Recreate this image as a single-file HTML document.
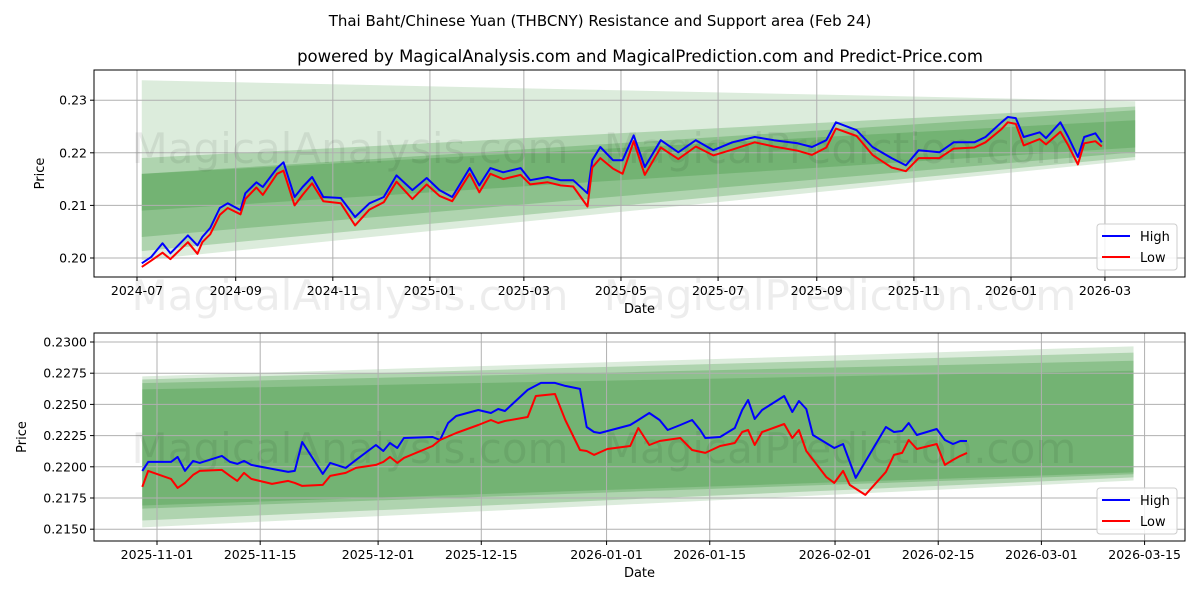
<!DOCTYPE html>
<html><head><meta charset="utf-8"><style>
html,body{margin:0;padding:0;background:#fff;}
svg text{font-family:"DejaVu Sans","Liberation Sans",sans-serif;}
</style></head><body>
<svg id="svg" width="1200" height="600" xmlns="http://www.w3.org/2000/svg">
<rect width="1200" height="600" fill="#fff"/>
<text x="600" y="26" text-anchor="middle" font-size="15" fill="#000">Thai Baht/Chinese Yuan (THBCNY) Resistance and Support area (Feb 24)</text>
<text x="640" y="62" text-anchor="middle" font-size="16.5" fill="#000">powered by MagicalAnalysis.com and MagicalPrediction.com and Predict-Price.com</text>
<g id="top"></g>
<g id="bot"></g>
</svg>
<script>
// ---- top chart data (days since 2024-07-01) ----
const topDays=[3,9,16,21,32,38,41,46,52,57,65,68,75,79,88,92,99,104,110,117,128,137,146,155,163,173,182,190,198,209,215,222,230,241,247,258,266,274,283,286,291,299,305,312,319,329,340,351,362,374,388,400,415,424,433,439,452,462,474,483,491,504,513,526,533,543,547,552,557,567,571,580,585,591,595,602,606];
const topHigh=[0.1990,0.2002,0.2028,0.2009,0.2043,0.2024,0.2040,0.2057,0.2095,0.2104,0.2091,0.2123,0.2144,0.2135,0.2171,0.2182,0.2116,0.2135,0.2154,0.2116,0.2114,0.2078,0.2104,0.2116,0.2157,0.2129,0.2152,0.2129,0.2116,0.2171,0.2138,0.2171,0.2163,0.2171,0.2148,0.2154,0.2148,0.2148,0.2123,0.2186,0.2211,0.2186,0.2186,0.2233,0.2173,0.2224,0.2201,0.2224,0.2205,0.2220,0.2230,0.2224,0.2218,0.2211,0.2224,0.2258,0.2243,0.2211,0.2190,0.2176,0.2205,0.2201,0.2220,0.2220,0.2230,0.2258,0.2268,0.2266,0.2230,0.2239,0.2228,0.2258,0.2230,0.2192,0.2230,0.2237,0.2220];
const topLow=[0.1983,0.1995,0.2010,0.1998,0.2030,0.2008,0.2030,0.2045,0.2082,0.2095,0.2083,0.2112,0.2134,0.2120,0.2160,0.2166,0.2100,0.2120,0.2142,0.2108,0.2104,0.2062,0.2092,0.2106,0.2145,0.2112,0.2140,0.2118,0.2108,0.2160,0.2125,0.2160,0.2150,0.2158,0.2140,0.2144,0.2138,0.2136,0.2098,0.2172,0.2190,0.2170,0.2160,0.2222,0.2158,0.2210,0.2188,0.2212,0.2195,0.2206,0.2220,0.2212,0.2204,0.2196,0.2210,0.2246,0.2232,0.2196,0.2172,0.2165,0.2190,0.2190,0.2208,0.2210,0.2220,0.2245,0.2258,0.2255,0.2214,0.2226,0.2216,0.2240,0.2214,0.2178,0.2218,0.2222,0.2212];
const topTickLabels=["2024-07","2024-09","2024-11","2025-01","2025-03","2025-05","2025-07","2025-09","2025-11","2026-01","2026-03"];
const topTickDays=[0,62,123,184,243,304,365,427,488,549,608];
const topYTicks=[0.20,0.21,0.22,0.23];
// bands: [startDay,endDay, leftTop,leftBot,rightTop,rightBot]
const topBandStart=[3,3,3,3];const topBandEnd=[627,627,627,627];
const topBandLT=[0.2338,0.2190,0.2160,0.2160];
const topBandLB=[0.1996,0.2013,0.2040,0.2090];
const topBandRT=[0.2298,0.2288,0.2281,0.2262];
const topBandRB=[0.2186,0.2192,0.2201,0.2210];
// ---- bottom chart data (days since 2025-11-01) ----
const botDays=[-2.0,-1.2,1.9,2.8,3.8,4.9,5.8,8.8,9.9,10.9,11.8,12.8,15.6,17.8,18.7,19.7,22.5,23.5,25.6,27.0,29.7,30.7,31.6,32.6,33.5,37.4,38.4,39.5,40.6,43.6,45.3,46.3,47.2,50.3,52.1,54.0,55.4,57.4,58.3,59.3,60.1,64.2,65.3,66.8,68.2,69.3,71.0,72.6,73.7,74.4,76.4,78.4,79.4,80.2,81.1,82.1,85.1,86.2,87.1,88.1,89.0,91.9,93.1,94.8,98.9,100.0,101.1,102.0,103.1,105.8,106.9,108.0,109.0,109.9];
const botHigh=[0.21967,0.22039,0.22039,0.22079,0.21967,0.22047,0.22031,0.22087,0.22039,0.22023,0.22047,0.22015,0.21983,0.21959,0.21967,0.22199,0.21943,0.22031,0.21991,0.22055,0.22175,0.22127,0.22191,0.22151,0.22231,0.22239,0.22215,0.22351,0.22407,0.22455,0.22431,0.22463,0.22447,0.22616,0.22672,0.22672,0.22648,0.22624,0.22319,0.22279,0.22271,0.22335,0.22375,0.22431,0.22375,0.22295,0.22335,0.22375,0.22295,0.22231,0.22239,0.22311,0.22455,0.22535,0.22383,0.22455,0.22567,0.22439,0.22527,0.22463,0.22255,0.22151,0.22183,0.21911,0.22319,0.22279,0.22287,0.22351,0.22255,0.22303,0.22215,0.22183,0.22207,0.22207];
const botLowDays=[-2.0,-1.2,1.9,2.8,3.8,4.9,5.8,8.8,9.9,10.9,11.8,12.8,15.6,17.8,18.7,19.7,22.5,23.5,25.6,27.0,29.7,30.7,31.6,32.6,33.5,37.4,38.4,40.6,43.6,45.3,46.3,47.2,50.3,51.4,54.0,55.4,57.4,58.3,59.3,61.1,64.2,65.3,66.8,68.2,71.0,72.6,74.4,76.4,78.4,79.4,80.2,81.1,82.1,85.1,86.2,87.1,88.1,90.8,91.9,93.1,94.0,96.1,98.9,100.0,101.1,102.0,103.1,105.8,106.9,108.0,109.0,109.9];
const botLow=[0.21839,0.21967,0.21903,0.21831,0.21871,0.21935,0.21967,0.21975,0.21927,0.21887,0.21951,0.21903,0.21863,0.21887,0.21871,0.21847,0.21855,0.21927,0.21951,0.21991,0.22015,0.22039,0.22079,0.22031,0.22071,0.22167,0.22215,0.22271,0.22335,0.22375,0.22351,0.22367,0.22399,0.22567,0.22583,0.22375,0.22135,0.22127,0.22095,0.22143,0.22167,0.22311,0.22175,0.22207,0.22231,0.22135,0.22111,0.22167,0.22191,0.22279,0.22295,0.22175,0.22279,0.22343,0.22231,0.22295,0.22127,0.21919,0.21871,0.21967,0.21855,0.21775,0.21959,0.22095,0.22111,0.22215,0.22143,0.22183,0.22015,0.22055,0.22087,0.22111];
const botTickLabels=["2025-11-01","2025-11-15","2025-12-01","2025-12-15","2026-01-01","2026-01-15","2026-02-01","2026-02-15","2026-03-01","2026-03-15"];
const botTickDays=[0,14,30,44,61,75,92,106,120,134];
const botYTicks=[0.2150,0.2175,0.2200,0.2225,0.2250,0.2275,0.2300];
const botBandStart=[-2,-2,-2,-2];const botBandEnd=[132.5,132.5,132.5,132.5];
const botBandLT=[0.22725,0.22700,0.22670,0.22620];
const botBandLB=[0.21515,0.21570,0.21665,0.21690];
const botBandRT=[0.22965,0.22915,0.22850,0.22770];
const botBandRB=[0.21890,0.21915,0.21940,0.21955];

const NS="http://www.w3.org/2000/svg";
function mk(parent,tag,attrs){const e=document.createElementNS(NS,tag);for(const k in attrs)e.setAttribute(k,attrs[k]);parent.appendChild(e);return e;}

function panel(g,o){
  const {x0,x1,y0,y1}=o;
  const X=d=>o.px0+(d-o.d0)*o.pxPerDay;
  const Y=v=>o.py0+(v-o.v0)*o.pxPerVal;
  // bands
  const alphas=[0.18,0.28,0.3,0.3];
  for(let i=0;i<o.bLT.length;i++){
    const a=X(o.bS[i]),b=X(o.bE[i]);
    const p=mk(g,'polygon',{points:`${a},${Y(o.bLT[i])} ${b},${Y(o.bRT[i])} ${b},${Y(o.bRB[i])} ${a},${Y(o.bLB[i])}`,fill:'#3c963c','fill-opacity':alphas[i]});
    
    
  }
  // grid
  o.xt.forEach((d,i)=>{const x=X(d);
    const l=mk(g,'line',{x1:x,x2:x,y1:y0,y2:y1,stroke:'#b0b0b0','stroke-width':1});
    
    mk(g,'line',{x1:x,x2:x,y1:y1,y2:y1+4,stroke:'#000'});
    const t=mk(g,'text',{x:x,y:y1+18,'text-anchor':'middle','font-size':12.5,fill:'#000'});t.textContent=o.xl[i];
    
  });
  o.yt.forEach(v=>{const y=Y(v);
    const l=mk(g,'line',{x1:x0,x2:x1,y1:y,y2:y,stroke:'#b0b0b0','stroke-width':1});
    
    mk(g,'line',{x1:x0-4,x2:x0,y1:y,y2:y,stroke:'#000'});
    const t=mk(g,'text',{x:x0-7,y:y+4.5,'text-anchor':'end','font-size':12.5,fill:'#000'});t.textContent=v.toFixed(o.dec);
    
  });
  // watermarks
  o.wm.forEach(w=>{const t=mk(g,'text',{x:w[0],y:w[1],'text-anchor':'middle','font-size':42,fill:'#000','fill-opacity':0.07});t.textContent=w[2];
    });
  // lines
  const line=(ds,vs,c,n)=>{let s='';const n2=Math.min(ds.length,vs.length);for(let i=0;i<n2;i++)s+=(i?'L':'M')+X(ds[i]).toFixed(1)+','+Y(vs[i]).toFixed(1);
    const p=mk(g,'path',{d:s,fill:'none',stroke:c,'stroke-width':2,'stroke-linejoin':'round'});
    };
  line(o.hd,o.hv,'#0000ff','high-line');
  line(o.ld,o.lv,'#ff0000','low-line');
  // frame
  const f=mk(g,'rect',{x:x0,y:y0,width:x1-x0,height:y1-y0,fill:'none',stroke:'#000','stroke-width':1});
  
  const xt=mk(g,'text',{x:(x0+x1)/2,y:y1+36,'text-anchor':'middle','font-size':13,fill:'#000'});xt.textContent='Date';
  
  const cy=(y0+y1)/2;
  const yt=mk(g,'text',{x:o.ylx,y:cy,'text-anchor':'middle','font-size':13,fill:'#000',transform:`rotate(-90 ${o.ylx} ${cy})`});yt.textContent='Price';
  
  // legend
  const lg=mk(g,'g',{});
  
  mk(lg,'rect',{x:1097,y:y1-53,width:80,height:46,rx:3,fill:'#fff','fill-opacity':0.85,stroke:'#ccc'});
  [['High','#0000ff'],['Low','#ff0000']].forEach((e,i)=>{const yy=y1-41+i*21;
    const eg=mk(lg,'g',{});
    mk(eg,'line',{x1:1102,x2:1130,y1:yy,y2:yy,stroke:e[1],'stroke-width':2});
    const t=mk(eg,'text',{x:1140,y:yy+5,'font-size':13,fill:'#000'});t.textContent=e[0];});
}
panel(document.getElementById('top'),{x0:94,x1:1185,y0:70,y1:277,px0:137,d0:0,pxPerDay:1.592,py0:258,v0:0.20,pxPerVal:-5260,
  xt:topTickDays,xl:topTickLabels,yt:topYTicks,dec:2,hd:topDays,hv:topHigh,ld:topDays,lv:topLow,ylx:44,
  bS:topBandStart,bE:topBandEnd,bLT:topBandLT,bLB:topBandLB,bRT:topBandRT,bRB:topBandRB,
  wm:[[350,163,'MagicalAnalysis.com'],[840,163,'MagicalPrediction.com'],[350,310,'MagicalAnalysis.com'],[840,310,'MagicalPrediction.com']]});
panel(document.getElementById('bot'),{x0:94,x1:1185,y0:333,y1:541,px0:157,d0:0,pxPerDay:7.37,py0:342,v0:0.23,pxPerVal:-12480,
  xt:botTickDays,xl:botTickLabels,yt:botYTicks,dec:4,hd:botDays,hv:botHigh,ld:botLowDays,lv:botLow,ylx:26,
  bS:botBandStart,bE:botBandEnd,bLT:botBandLT,bLB:botBandLB,bRT:botBandRT,bRB:botBandRB,
  wm:[[350,463,'MagicalAnalysis.com'],[840,463,'MagicalPrediction.com']]});
</script>
</body></html>
